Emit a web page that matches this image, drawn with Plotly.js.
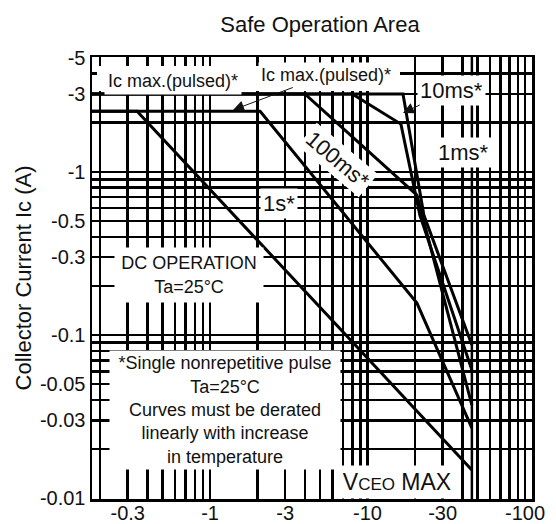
<!DOCTYPE html>
<html>
<head>
<meta charset="utf-8">
<script src="https://cdn.plot.ly/plotly-3.0.1.min.js"></script>
<style>html,body{margin:0;padding:0;background:#fff;}#chart{width:556px;height:524px;}</style>
</head>
<body>
<div id="chart"></div>
<script>
// ---- data (V_CE in volts, Ic in amperes) ----
const dcVolts      = [-0.178, -0.344, -46];
const dcCurrent    = [-2.35, -2.35, -0.0149];
const s1Volts      = [-0.178, -2.08, -20.6, -46];
const s1Current    = [-2.35, -2.35, -0.157, -0.0269];
const ms100Volts   = [-0.178, -4.0, -20.6, -46];
const ms100Current = [-3, -3, -0.72, -0.0372];
const ms10Volts    = [-0.178, -8.0, -16.3, -21.5, -46];
const ms10Current  = [-3, -3, -1.96, -0.543, -0.061];
const ms1Volts     = [-0.178, -16.8, -22.8, -46];
const ms1Current   = [-3, -3, -0.543, -0.0868];
const vceoMaxVolts   = [-46, -46];
const vceoMaxCurrent = [-5.05, -0.0099];

// tick labels
const xTickValues = [-0.3, -1, -3, -10, -30, -100];
const xTickLabels = ['-0.3', '-1', '-3', '-10', '-30', '-100'];
const yTickValues = [-5, -3, -1, -0.5, -0.3, -0.1, -0.05, -0.03, -0.01];
const yTickLabels = ['-5', '-3', '-1', '-0.5', '-0.3', '-0.1', '-0.05', '-0.03', '-0.01'];

// grid positions (magnitudes)
const xGrid = [0.2,0.3,0.4,0.5,0.6,0.7,0.8,0.9,1,2,3,4,5,6,7,8,9,10,20,30,40,50,60,70,80,90,100];
const yGrid = [0.01,0.02,0.03,0.04,0.05,0.06,0.07,0.08,0.09,0.1,0.2,0.3,0.4,0.5,0.6,0.7,0.8,0.9,1,2,3,4,5];

function labelsFor(grid, vals, labels) {
  return grid.map(g => {
    const i = vals.findIndex(v => Math.abs(Math.abs(v) - g) < 1e-9);
    return i >= 0 ? labels[i] : '';
  });
}

const FONT = 'Liberation Sans, Arial, Helvetica, sans-serif';
function curve(v, c, w) {
  return {x: v.map(Math.abs), y: c.map(Math.abs), type: 'scatter', mode: 'lines',
          line: {color: '#000', width: w || 3}, hoverinfo: 'skip', showlegend: false};
}
const traces = [
  curve(vceoMaxVolts, vceoMaxCurrent, 2.5),
  curve(dcVolts, dcCurrent),
  curve(s1Volts, s1Current),
  curve(ms100Volts, ms100Current),
  curve(ms10Volts, ms10Current),
  curve(ms1Volts, ms1Current)
];

// plot area geometry
const L = 92, T = 57, W = 440, H = 442;
const px = x => (x - L) / W;
const py = y => (T + H - y) / H;

const txt = size => ({family: FONT, size: size, color: '#111'});
const base = {xref: 'paper', yref: 'paper', xanchor: 'center', yanchor: 'middle'};
const ann = o => Object.assign({}, base, o);

const annotations = [
  ann({text: 'Ic max.(pulsed)*', x: px(173), y: py(81),
   showarrow: false, font: txt(18), bgcolor: '#fff', borderpad: 3}),
  ann({text: 'Ic max.(pulsed)*', x: px(233), y: py(110),
   ax: 93, ay: -35, showarrow: true, arrowhead: 2, arrowsize: 2.2, arrowwidth: 1, arrowcolor: '#111',
   font: txt(18), bgcolor: '#fff', borderpad: 2}),
  ann({text: '10ms*', x: px(403), y: py(113),
   ax: 48, ay: -23, showarrow: true, arrowhead: 2, arrowsize: 2.2, arrowwidth: 1, arrowcolor: '#111',
   font: txt(22), bgcolor: '#fff', borderpad: 2}),
  ann({text: '1ms*', x: px(463), y: py(152),
   showarrow: false, font: txt(22), bgcolor: '#fff', borderpad: 2}),
  ann({text: '100ms*', x: px(337), y: py(160), textangle: 40,
   showarrow: false, font: txt(22), bgcolor: '#fff', borderpad: 2}),
  ann({text: '1s*', x: px(279), y: py(203),
   showarrow: false, font: txt(22), bgcolor: '#fff', borderpad: 2}),
  ann({text: 'DC OPERATION<br>Ta=25°C', x: px(189), y: py(275),
   width: 148, height: 54, showarrow: false, font: txt(18), bgcolor: '#fff', borderpad: 0}),
  ann({text: '*Single nonrepetitive pulse<br>Ta=25°C<br>Curves must be derated<br>linearly with increase<br>in temperature',
   x: px(225), y: py(410), width: 230, height: 118,
   showarrow: false, font: txt(18), bgcolor: '#fff', borderpad: 0}),
  ann({text: 'V<span style="font-size:17px">CEO</span> MAX',
   x: px(397), y: py(482), width: 118, height: 32,
   showarrow: false, font: txt(23), bgcolor: '#fff', borderpad: 0})
];

const shapes = [
  {type: 'rect', xref: 'paper', yref: 'paper', x0: px(97), x1: px(400), y0: py(91), y1: py(66),
   fillcolor: '#fff', line: {width: 0}, layer: 'above'}
];

const axisBase = {
  type: 'log', tickmode: 'array', showgrid: true, gridcolor: '#000', gridwidth: 2.5,
  showline: true, linecolor: '#000', linewidth: 2.5, mirror: true, ticks: '',
  tickfont: {family: FONT, size: 20, color: '#111'}, zeroline: false
};

const layout = {
  width: 556, height: 524,
  margin: {l: L, r: 556 - L - W, t: T, b: 524 - T - H},
  paper_bgcolor: '#fff', plot_bgcolor: '#fff',
  font: {family: FONT, color: '#111'},
  title: {text: 'Safe Operation Area', font: {family: FONT, size: 22, color: '#111'},
          xref: 'container', yref: 'container', x: 320 / 556, xanchor: 'center',
          y: 1 - 24 / 524, yanchor: 'middle'},
  xaxis: Object.assign({}, axisBase, {
    range: [Math.log10(0.178), Math.log10(110.8)],
    tickvals: xGrid, ticktext: labelsFor(xGrid, xTickValues, xTickLabels),
    ticklabelstandoff: -6
  }),
  yaxis: Object.assign({}, axisBase, {
    range: [Math.log10(0.0099), Math.log10(5.05)],
    tickvals: yGrid, ticktext: labelsFor(yGrid, yTickValues, yTickLabels),
    title: {text: 'Collector Current Ic (A)', font: {family: FONT, size: 22, color: '#111'}, standoff: 2}
  }),
  annotations: annotations,
  shapes: shapes,
  showlegend: false
};

Plotly.newPlot('chart', traces, layout, {staticPlot: true, displayModeBar: false});
</script>
</body>
</html>
